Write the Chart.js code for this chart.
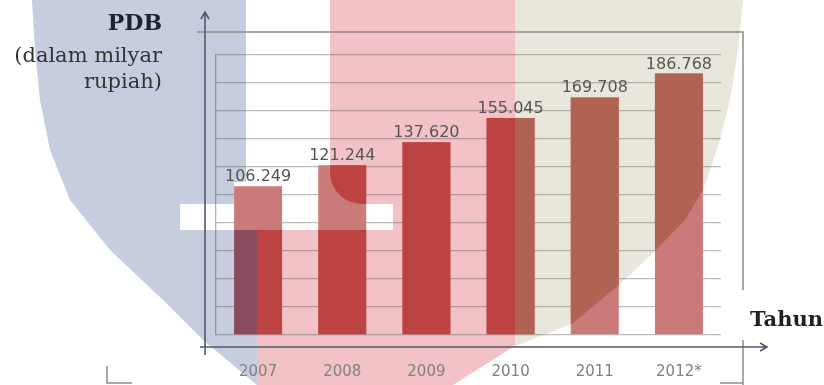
<!DOCTYPE html>
<html>
<head>
<meta charset="utf-8">
<script src="https://cdn.jsdelivr.net/npm/chart.js@4/dist/chart.umd.min.js"></script>
<style>
  html, body { margin: 0; padding: 0; background: #fff; }
  #wrap { width: 824px; height: 385px; }
</style>
</head>
<body>
<div id="wrap"><canvas id="myChart" width="824" height="385"></canvas></div>
<script>
// data (PDB, milyar rupiah)
var years = ["2007", "2008", "2009", "2010", "2011", "2012*"];
var pdb = [106249, 121244, 137620, 155045, 169708, 186768];
var yMin = 0, yMax = 200000, yStep = 20000;

var barColor = "#C97A79";

function fmt(v) {
    var k = Math.floor(v / 1000), r = String(v % 1000);
    while (r.length < 3) r = "0" + r;
    return k + "." + r;
}

// the faded logo behind the chart
var leftEdge = [[32,0],[35,50],[40,100],[50,150],[70,200],[110,250],[163,300],[203,340],[257,385]];
var rightEdge = [[453,385],[513,347],[573,323],[620,284],[653,253],[685,220],[703,190],[717,150],[730,100],[738,50],[743,0]];

function logoPath(ctx) {
    ctx.beginPath();
    leftEdge.forEach(function (p, i) { i ? ctx.lineTo(p[0], p[1]) : ctx.moveTo(p[0], p[1]); });
    rightEdge.forEach(function (p) { ctx.lineTo(p[0], p[1]); });
    ctx.closePath();
}

function logoClip(ctx, W, H) {
    logoPath(ctx);
    ctx.clip();
    ctx.beginPath();
    ctx.rect(0, 0, W, H);
    ctx.rect(180, 204, 213, 26);
    ctx.clip("evenodd");
}

function logoFill(ctx, W, H, c) {
    ctx.fillStyle = c.blue;
    ctx.beginPath();
    ctx.rect(0, 0, 246, 182);
    ctx.rect(0, 182, 234, 22);
    ctx.rect(0, 204, 257, H);
    ctx.fill();

    ctx.fillStyle = c.pink;
    ctx.beginPath();
    ctx.moveTo(330, 0);
    ctx.lineTo(515, 0);
    ctx.lineTo(515, 204);
    ctx.lineTo(362, 204);
    ctx.arcTo(330, 204, 330, 172, 32);
    ctx.closePath();
    ctx.rect(393, 204, 122, 26);
    ctx.rect(257, 230, 258, H);
    ctx.fill();

    ctx.fillStyle = c.khaki;
    ctx.fillRect(515, 0, W, H);
}

var watermark = {
    id: "watermark",
    beforeDraw: function (chart) {
        var ctx = chart.ctx, W = chart.width, H = chart.height;
        ctx.save();
        ctx.fillStyle = "#fff";
        ctx.fillRect(0, 0, W, H);
        logoClip(ctx, W, H);
        logoFill(ctx, W, H, { blue: "#C5CDDE", pink: "#F3C2C6", khaki: "#E9E7DC" });
        ctx.restore();
    },
    afterDatasetsDraw: function (chart) {
        var ctx = chart.ctx, W = chart.width, H = chart.height;
        var bars = chart.getDatasetMeta(0).data;
        ctx.save();
        ctx.beginPath();
        bars.forEach(function (b) {
            ctx.rect(b.x - b.width / 2, b.y, b.width, b.base - b.y);
        });
        ctx.clip();
        logoClip(ctx, W, H);
        logoFill(ctx, W, H, { blue: "#8A4B5E", pink: "#BD4242", khaki: "#B06352" });
        ctx.restore();
    }
};

var decorations = {
    id: "decorations",
    afterDraw: function (chart) {
        var ctx = chart.ctx, a = chart.chartArea;
        ctx.save();

        // value labels
        ctx.font = "16px 'DejaVu Sans'";
        ctx.fillStyle = "#555";
        ctx.textAlign = "center";
        ctx.textBaseline = "alphabetic";
        chart.getDatasetMeta(0).data.forEach(function (b, i) {
            ctx.fillText(fmt(pdb[i]), b.x, b.y - 5);
        });

        // slide frame
        ctx.strokeStyle = "#8c8c8c";
        ctx.lineWidth = 1.5;
        ctx.beginPath();
        ctx.moveTo(197, 32); ctx.lineTo(743, 32); ctx.lineTo(743, 290);
        ctx.moveTo(743, 340); ctx.lineTo(743, 385);
        ctx.moveTo(720, 383); ctx.lineTo(743, 383);
        ctx.moveTo(107, 366); ctx.lineTo(107, 383); ctx.lineTo(132, 383);
        ctx.stroke();

        // axis arrows
        var ax = a.left - 11, ay = a.bottom + 12;
        ctx.strokeStyle = "#50586a";
        ctx.lineWidth = 1.6;
        ctx.beginPath();
        ctx.moveTo(ax, 355); ctx.lineTo(ax, 12);
        ctx.moveTo(ax - 4, 19); ctx.lineTo(ax, 12); ctx.lineTo(ax + 4, 19);
        ctx.moveTo(200, ay); ctx.lineTo(767, ay);
        ctx.moveTo(760, ay - 4); ctx.lineTo(767, ay); ctx.lineTo(760, ay + 4);
        ctx.stroke();

        // axis titles
        ctx.textAlign = "right";
        ctx.fillStyle = "#1c2233";
        ctx.font = "bold 22px 'DejaVu Serif'";
        ctx.fillText("PDB", 162, 30);
        ctx.fillStyle = "#333";
        ctx.font = "21px 'DejaVu Serif'";
        ctx.fillText("(dalam milyar", 162, 62);
        ctx.fillText("rupiah)", 162, 88);
        ctx.textAlign = "left";
        ctx.fillStyle = "#222";
        ctx.font = "bold 21px 'DejaVu Serif'";
        ctx.fillText("Tahun", 750, 326);
        ctx.restore();
    }
};

var ctx = document.getElementById("myChart").getContext("2d");
var myBarChart = new Chart(ctx, {
    type: "bar",
    data: {
        labels: years,
        datasets: [{
            data: pdb,
            backgroundColor: barColor,
            borderWidth: 0,
            barPercentage: 0.57,
            categoryPercentage: 1.0
        }]
    },
    options: {
        responsive: false,
        devicePixelRatio: 1,
        animation: false,
        layout: { padding: { left: 216, right: 103, top: 55, bottom: 0 } },
        plugins: {
            legend: { display: false },
            tooltip: { enabled: false }
        },
        scales: {
            x: {
                grid: { display: false, drawTicks: false },
                border: { display: false },
                ticks: {
                    color: "#808080",
                    font: { family: "DejaVu Sans", size: 15 },
                    padding: 28
                },
                afterFit: function (s) { s.height = 50; }
            },
            y: {
                min: yMin,
                max: yMax,
                ticks: { display: false, stepSize: yStep },
                grid: { color: "rgba(60,60,60,0.35)", lineWidth: 1.3, drawTicks: false },
                border: { display: true, color: "rgba(60,60,60,0.4)", width: 1.3 },
                afterFit: function (s) { s.width = 0; }
            }
        }
    },
    plugins: [watermark, decorations]
});
</script>
</body>
</html>
